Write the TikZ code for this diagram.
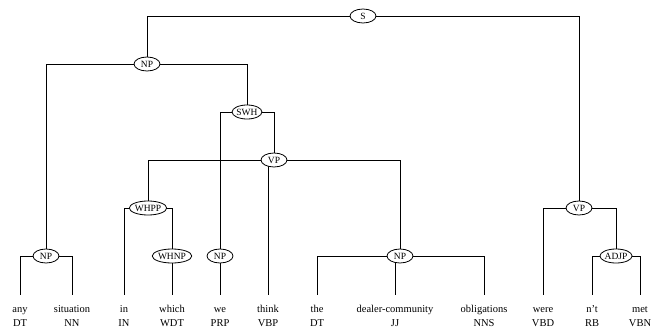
\documentclass[tikz,border=0pt]{standalone}
\usepackage{fontspec}
\setmainfont{Liberation Serif}
\usetikzlibrary{shapes.geometric,backgrounds}
\begin{document}
\begin{tikzpicture}[x=1pt,y=-1pt,
  phrase/.style={ellipse,draw,line width=0.8pt,fill=white,
    inner xsep=0pt,inner ysep=0pt,minimum width=26pt,minimum height=14pt,
    font=\fontsize{9.5}{10}\selectfont},
  word/.style={anchor=base,inner xsep=0pt,inner ysep=8pt,text height=9pt,
    font=\fontsize{10.5}{12}\selectfont},
  tag/.style={anchor=base,inner sep=0pt,font=\fontsize{10.5}{12}\selectfont},
  branch/.style={line width=1pt}]
\useasboundingbox (0,0) rectangle (652,334);

% phrase nodes
\node[phrase] (S)    at (363,16)  {S};
\node[phrase] (NPa)  at (147,64)  {NP};
\node[phrase] (SWH)  at (247,112) {SWH};
\node[phrase] (VPa)  at (274,160) {VP};
\node[phrase] (WHPP) at (148,208) {WHPP};
\node[phrase] (VPb)  at (579,208) {VP};
\node[phrase] (NPb)  at (46,256)  {NP};
\node[phrase] (WHNP) at (172,256) {WHNP};
\node[phrase] (NPc)  at (220,256) {NP};
\node[phrase] (NPd)  at (400,256) {NP};
\node[phrase] (ADJP) at (616,256) {ADJP};

% words with their part-of-speech tags
\foreach \n/\x/\w/\t in {any/20/any/DT, situation/72/situation/NN, in/124/in/IN,
    which/172/which/WDT, we/220/we/PRP, think/268/think/VBP, the/317/the/DT,
    dealer/395/dealer-community/JJ, obligations/484/obligations/NNS,
    were/543/were/VBD, nt/592/n't/RB, met/640/met/VBN} {
  \node[word] (w-\n) at (\x,312) {\w};
  \node[tag]  (t-\n) at (\x,326) {\t};
}

% branches, drawn under the ellipses
\begin{scope}[on background layer,branch]
  \draw (S.center) -| (NPa.north);
  \draw (S.center) -| (VPb.north);
  \draw (NPa.center) -| (NPb.north);
  \draw (NPa.center) -| (SWH.north);
  \draw (SWH.center) -| (NPc.north);
  \draw (SWH.center) -| (VPa.north);
  \draw (VPa.center) -| (WHPP.north);
  \draw (VPa.center) -| (w-think.north);
  \draw (VPa.center) -| (NPd.north);
  \draw (WHPP.center) -| (w-in.north);
  \draw (WHPP.center) -| (WHNP.north);
  \draw (WHNP.center) -- (w-which.north);
  \draw (NPc.center) -- (w-we.north);
  \draw (NPb.center) -| (w-any.north);
  \draw (NPb.center) -| (w-situation.north);
  \draw (NPd.center) -| (w-the.north);
  \draw (NPd.center) -| (w-dealer.north);
  \draw (NPd.center) -| (w-obligations.north);
  \draw (VPb.center) -| (w-were.north);
  \draw (VPb.center) -| (ADJP.north);
  \draw (ADJP.center) -| (w-nt.north);
  \draw (ADJP.center) -| (w-met.north);
\end{scope}
\end{tikzpicture}
\end{document}
